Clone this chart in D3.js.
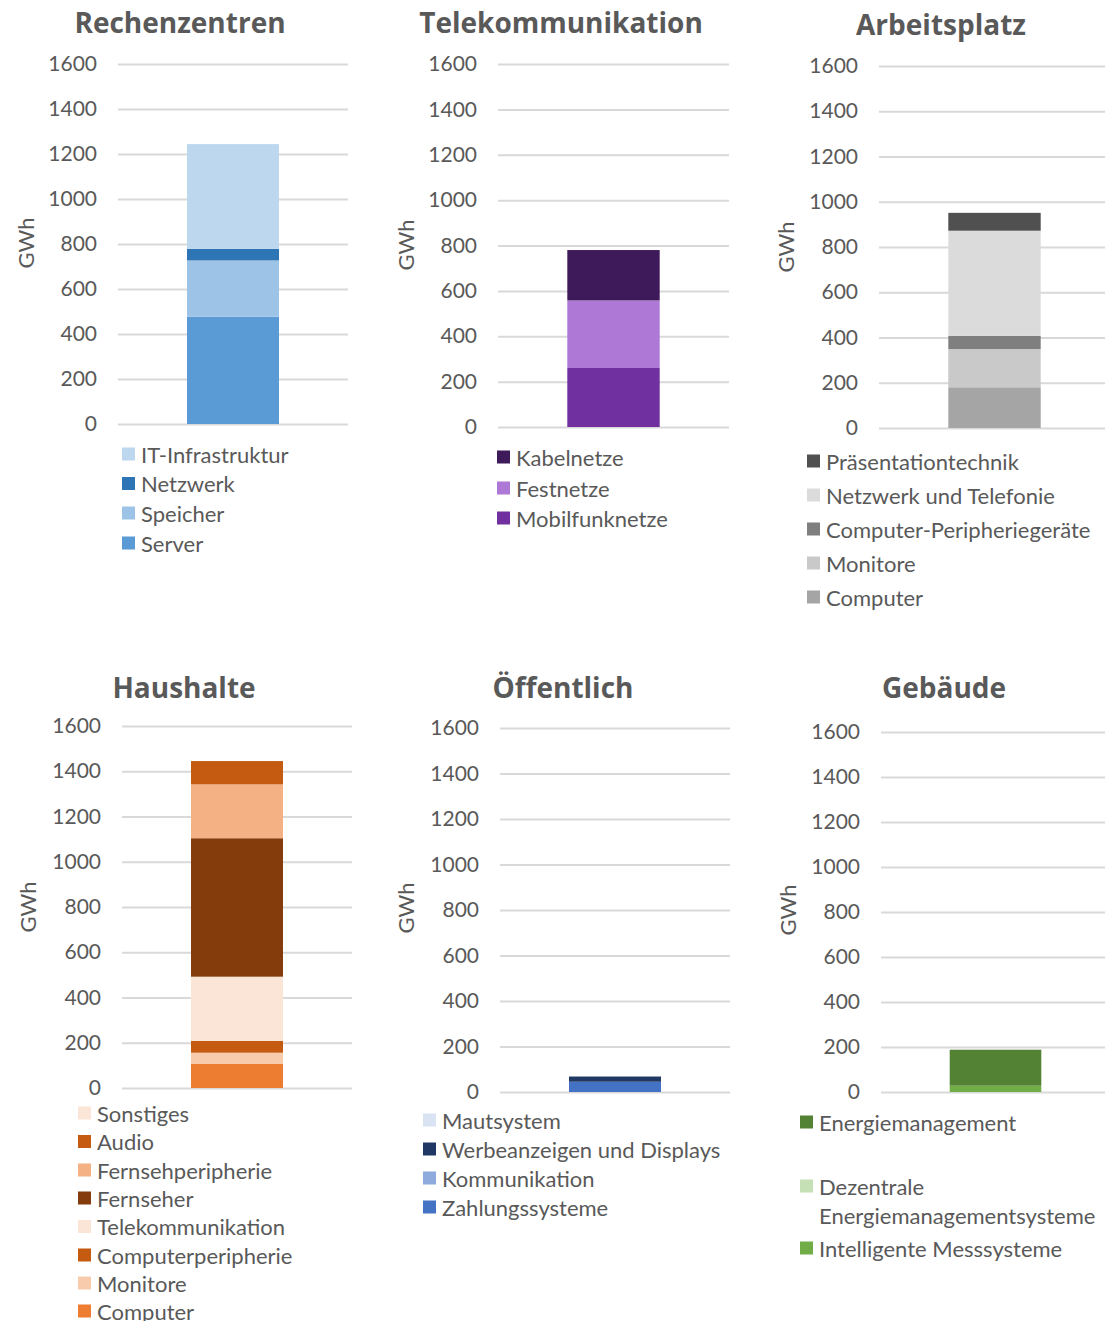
<!DOCTYPE html>
<html lang="de">
<head>
<meta charset="utf-8">
<title>Stromverbrauch IKT nach Bereichen</title>
<script src="https://cdn.jsdelivr.net/npm/d3@7"></script>
<style>
  html, body { margin: 0; padding: 0; background: #ffffff; }
  svg { display: block; font-family: Lato, "Open Sans", "DejaVu Sans", sans-serif; }
</style>
</head>
<body>
<svg id="chart" width="1105" height="1321"></svg>
<script>
// Shared y axis
const yTicks = [0, 200, 400, 600, 800, 1000, 1200, 1400, 1600];
const yUnit = "GWh";

// Rechenzentren (stack order bottom -> top)
const rzSeries = ["Server", "Speicher", "Netzwerk", "IT-Infrastruktur"];
const rzValues = [477, 250, 52, 465];
const rzColors = ["#5b9bd5", "#9dc3e6", "#2e75b6", "#bdd7ee"];

// Telekommunikation
const tkSeries = ["Mobilfunknetze", "Festnetze", "Kabelnetze"];
const tkValues = [260, 298, 222];
const tkColors = ["#7030a0", "#ad78d6", "#3f1a5a"];

// Arbeitsplatz
const apSeries = ["Computer", "Monitore", "Computer-Peripheriegeräte", "Netzwerk und Telefonie", "Präsentationtechnik"];
const apValues = [180, 169, 58, 465, 79];
const apColors = ["#a5a5a5", "#c9c9c9", "#7f7f7f", "#dbdbdb", "#505050"];

// Haushalte
const hhSeries = ["Computer", "Monitore", "Computerperipherie", "Telekommunikation", "Fernseher", "Fernsehperipherie", "Audio", "Sonstiges"];
const hhValues = [106, 50, 52, 284, 612, 238, 103, 0];
const hhColors = ["#ed7d31", "#f8cbad", "#c55a11", "#fbe5d6", "#843c0c", "#f4b183", "#c55a11", "#fbe5d6"];

// Öffentlich
const oeSeries = ["Zahlungssysteme", "Kommunikation", "Werbeanzeigen und Displays", "Mautsystem"];
const oeValues = [44, 1, 23, 0];
const oeColors = ["#4472c4", "#8faadc", "#203864", "#dae3f3"];

// Gebäude
const gbSeries = ["Intelligente Messsysteme", "Dezentrale Energiemanagementsysteme", "Energiemanagement"];
const gbValues = [28, 0, 160];
const gbColors = ["#70ad47", "#c5e0b4", "#548235"];

// Panel layout: plot area, title, axis label and legend placement
const panels = [
  { title: "Rechenzentren", series: rzSeries, values: rzValues, colors: rzColors,
    gx: [118, 348], gy: [64, 424], titleX: 180, titleY: 33, unitX: 25, unitY: 243,
    legX: 122, legRows: [454, 483.5, 513, 543] },
  { title: "Telekommunikation", series: tkSeries, values: tkValues, colors: tkColors,
    gx: [498, 729], gy: [64, 427], titleX: 561, titleY: 33, unitX: 405, unitY: 245,
    legX: 497, legRows: [457, 488, 518] },
  { title: "Arbeitsplatz", series: apSeries, values: apValues, colors: apColors,
    gx: [879, 1110], gy: [66, 428], titleX: 941, titleY: 35, unitX: 785, unitY: 247,
    legX: 807, legRows: [461, 495, 529, 563, 597] },
  { title: "Haushalte", series: hhSeries, values: hhValues, colors: hhColors,
    gx: [122, 352], gy: [726, 1088], titleX: 184, titleY: 698, unitX: 27, unitY: 907,
    legX: 78, legRows: [1113, 1141.5, 1170, 1198, 1226.5, 1255, 1283, 1311] },
  { title: "Öffentlich", series: oeSeries, values: oeValues, colors: oeColors,
    gx: [500, 730], gy: [728, 1092], titleX: 563, titleY: 698, unitX: 405, unitY: 908,
    legX: 423, legRows: [1120, 1149, 1178, 1207] },
  { title: "Gebäude", series: gbSeries, values: gbValues, colors: gbColors,
    gx: [881, 1110], gy: [732, 1092], titleX: 944, titleY: 698, unitX: 787, unitY: 910,
    legX: 800, legRows: [1248, 1186, 1122], wrap: { 1: ["Dezentrale", "Energiemanagementsysteme"] } }
];

const textColor = "#595959";
const gridColor = "#d9d9d9";
const svg = d3.select("#chart");

panels.forEach(p => {
  const g = svg.append("g");

  // one stacked column per panel
  const row = { cat: p.title };
  const keys = p.series.map((s, i) => s + "#" + i);
  keys.forEach((k, i) => { row[k] = p.values[i]; });
  const stacked = d3.stack().keys(keys)([row]);

  const x = d3.scaleBand().domain([p.title]).range(p.gx)
    .paddingInner(0.4286).paddingOuter(0.4286);
  const y = d3.scaleLinear().domain([0, 1600]).range([p.gy[1], p.gy[0]]);

  // gridlines + tick labels
  const axis = d3.axisLeft(y).tickValues(yTicks).tickFormat(d3.format("d"))
    .tickSize(-(p.gx[1] - p.gx[0])).tickPadding(21);
  const ax = g.append("g").attr("transform", `translate(${p.gx[0]},0)`).call(axis);
  ax.select(".domain").remove();
  ax.selectAll(".tick line").attr("stroke", gridColor).attr("stroke-width", 2);
  ax.selectAll(".tick text").attr("fill", textColor).attr("font-size", 21)
    .attr("font-family", "Lato, sans-serif");

  // stacked segments
  g.append("g").selectAll("rect").data(stacked).join("rect")
    .attr("x", x(p.title))
    .attr("width", x.bandwidth())
    .attr("y", d => y(d[0][1]))
    .attr("height", d => y(d[0][0]) - y(d[0][1]))
    .attr("fill", (d, i) => p.colors[i]);

  // title
  g.append("text").attr("x", p.titleX).attr("y", p.titleY)
    .attr("text-anchor", "middle").attr("font-size", 28).attr("font-weight", 700)
    .attr("font-family", "'Open Sans', sans-serif")
    .attr("fill", textColor).text(p.title);

  // y unit label
  g.append("text")
    .attr("transform", `translate(${p.unitX},${p.unitY}) rotate(-90)`)
    .attr("text-anchor", "middle").attr("dominant-baseline", "central")
    .attr("font-size", 22).attr("fill", textColor).text(yUnit);

  // legend: series listed top-down in reverse stack order
  const legend = g.append("g");
  const order = p.series.map((s, i) => i).reverse();
  order.forEach((si, k) => {
    const rowY = p.wrap ? p.legRows[si] : p.legRows[k];
    legend.append("rect").attr("x", p.legX).attr("y", rowY - 6.5)
      .attr("width", 13).attr("height", 13).attr("fill", p.colors[si]);
    const lines = (p.wrap && p.wrap[si]) ? p.wrap[si] : [p.series[si]];
    lines.forEach((ln, li) => {
      legend.append("text").attr("x", p.legX + 19).attr("y", rowY + li * 29)
        .attr("dominant-baseline", "central").attr("font-size", 22)
        .attr("fill", textColor).text(ln);
    });
  });
});
</script>
</body>
</html>
